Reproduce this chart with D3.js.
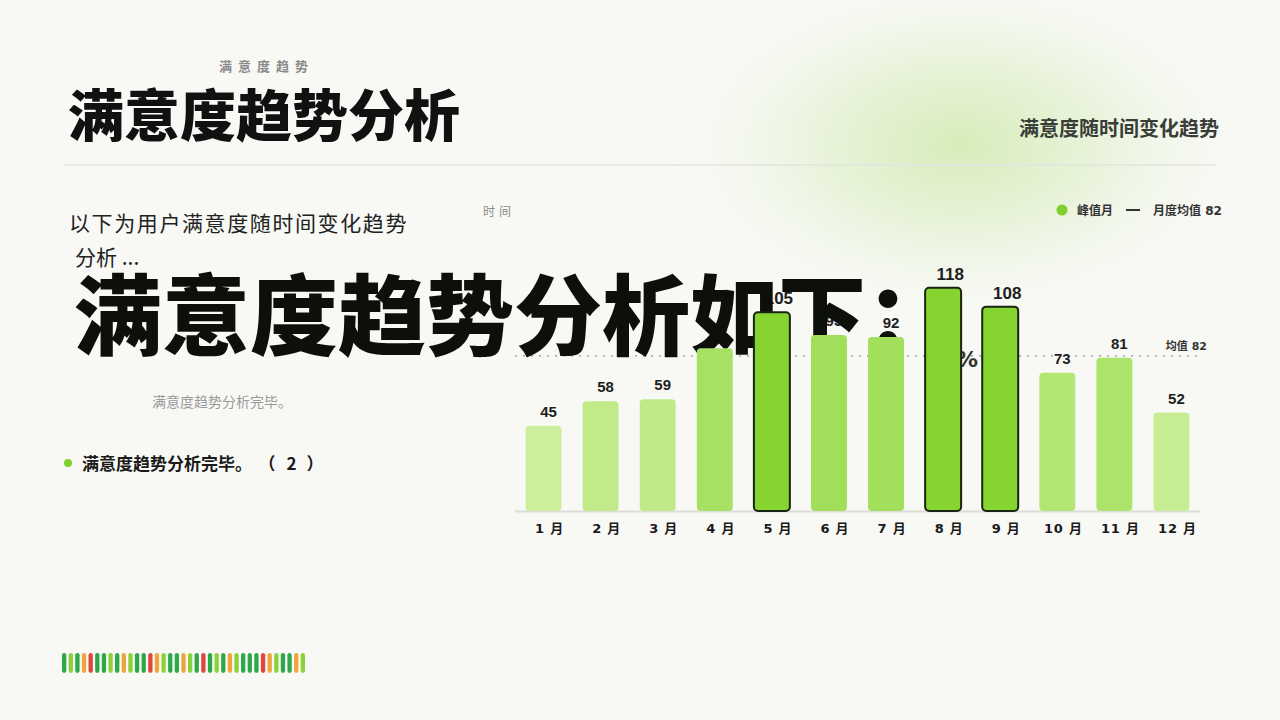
<!DOCTYPE html>
<html><head><meta charset="utf-8">
<script src="https://cdn.jsdelivr.net/npm/d3@7/dist/d3.min.js"></script>
<style>html,body{margin:0;padding:0;background:#f8f9f5;overflow:hidden}</style>
</head><body><svg id="c" width="1280" height="720"></svg>
<script>
const months = ["1 月","2 月","3 月","4 月","5 月","6 月","7 月","8 月","9 月","10 月","11 月","12 月"];
const values = [45,58,59,86,105,93,92,118,108,73,81,52];
const peakMonths = ["5 月","8 月","9 月"];
const avgValue = 82;
const stripKinds = ["dg","lg","dg","or","rd","dg","dg","lg","dg","or","lg","dg","dg","rd","or","lg","dg","dg","or","lg","dg","rd","dg","lg","dg","or","lg","dg","dg","dg","rd","or","lg","dg","dg","or","lg"];

const CJK = "'Noto Sans CJK SC','Noto Sans',sans-serif";
const svg = d3.select("#c");
const defs = svg.append("defs");
const g1 = defs.append("radialGradient").attr("id","glow");
g1.append("stop").attr("offset","0%").attr("stop-color","#d5ebb6").attr("stop-opacity",0.95);
g1.append("stop").attr("offset","45%").attr("stop-color","#e0f0cc").attr("stop-opacity",0.65);
g1.append("stop").attr("offset","100%").attr("stop-color","#f8f9f5").attr("stop-opacity",0);

svg.append("rect").attr("width",1280).attr("height",720).attr("fill","#f8f9f5");
svg.append("ellipse").attr("cx",960).attr("cy",145).attr("rx",310).attr("ry",185).attr("fill","url(#glow)");

// header
svg.append("text").attr("x",219).attr("y",71).text("满意度趋势")
  .attr("font-family",CJK).attr("font-size",13).attr("font-weight",700).attr("fill","#8a8a8a").attr("letter-spacing",6);
svg.append("text").attr("x",68).attr("y",136).text("满意度趋势分析")
  .attr("font-family",CJK).attr("font-size",56).attr("font-weight",900).attr("fill","#111");
svg.append("text").attr("x",1219).attr("y",136).attr("text-anchor","end").text("满意度随时间变化趋势")
  .attr("font-family",CJK).attr("font-size",20).attr("font-weight",700).attr("fill","#3a3d38");
svg.append("line").attr("x1",64).attr("x2",1216).attr("y1",165).attr("y2",165).attr("stroke","#e2e4de").attr("stroke-width",1.5);

// left texts
svg.append("text").attr("x",69).attr("y",231).text("以下为用户满意度随时间变化趋势")
  .attr("font-family",CJK).attr("font-size",21).attr("fill","#222").attr("letter-spacing",1.6);
svg.append("text").attr("x",75).attr("y",265).text("分析 ...")
  .attr("font-family",CJK).attr("font-size",21).attr("fill","#222");
svg.append("text").attr("x",152).attr("y",407).text("满意度趋势分析完毕。")
  .attr("font-family",CJK).attr("font-size",14).attr("fill","#9a9a9a");
svg.append("circle").attr("cx",68).attr("cy",463).attr("r",4).attr("fill","#7fd02f");
const bt = svg.append("text").attr("x",82).attr("y",470)
  .attr("font-family",CJK).attr("font-size",17).attr("font-weight",700).attr("fill","#1a1a1a");
bt.append("tspan").text("满意度趋势分析完毕。");
bt.append("tspan").attr("dx",15).text("（");
bt.append("tspan").attr("dx",11).text("2");
bt.append("tspan").attr("dx",10).text("）");

// strip
const sx = d3.scaleBand().domain(d3.range(stripKinds.length)).range([62,305]).paddingInner(0.35);
const stripColor = {dg:"#2fa84a", lg:"#8cd13a", or:"#eda53c", rd:"#e0463f"};
svg.append("g").selectAll("rect").data(stripKinds).join("rect")
  .attr("x",(d,i)=>sx(i)).attr("width",sx.bandwidth()).attr("y",653).attr("height",20)
  .attr("rx",sx.bandwidth()/2).attr("fill",d=>stripColor[d]);

// chart
const x = d3.scalePoint().domain(months).range([515,1200]).padding(0.5);
const bw = x.step()*0.63;
const y = d3.scaleLinear().domain([0,130]).range([511,265]);
const col = d3.scaleLinear().domain([45,93]).range(["#cdef9b","#a1df5a"]).clamp(true);
const isPeak = m => peakMonths.includes(m);
const data = months.map((m,i)=>({m, v:values[i]}));

svg.append("text").attr("x",483).attr("y",216).text("时间")
  .attr("font-family",CJK).attr("font-size",12).attr("fill","#8a8a8a").attr("letter-spacing",4);

// legend
svg.append("circle").attr("cx",1062).attr("cy",210).attr("r",5.5).attr("fill","#7fd02f");
svg.append("text").attr("x",1077).attr("y",215).text("峰值月")
  .attr("font-family",CJK).attr("font-size",12).attr("font-weight",700).attr("fill","#333");
svg.append("line").attr("x1",1126).attr("x2",1140).attr("y1",210).attr("y2",210).attr("stroke","#333").attr("stroke-width",2);
svg.append("text").attr("x",1153).attr("y",215).text("月度均值 82")
  .attr("font-family","'DejaVu Sans',"+CJK).attr("font-size",12).attr("font-weight",700).attr("fill","#333");

// axis baseline
svg.append("line").attr("x1",515).attr("x2",1200).attr("y1",y(0)+0.5).attr("y2",y(0)+0.5).attr("stroke","#dcdcd8").attr("stroke-width",2);
// avg line
svg.append("line").attr("x1",515).attr("x2",1200).attr("y1",y(avgValue)).attr("y2",y(avgValue))
  .attr("stroke","#8f8f8b").attr("stroke-width",1.4).attr("stroke-dasharray","2,6");
svg.append("text").attr("x",1207).attr("y",y(avgValue)-6).attr("text-anchor","end").text("均值 82")
  .attr("font-family","'DejaVu Sans',"+CJK).attr("font-size",11).attr("font-weight",700).attr("fill","#333");

// value labels (under overlay)
svg.append("g").selectAll("text").data(data).join("text")
  .attr("x",d=>x(d.m)+(isPeak(d.m)?7:5)).attr("y",d=>y(d.v)-(isPeak(d.m)?8:9))
  .attr("text-anchor","middle").text(d=>d.v)
  .attr("font-family","'Liberation Sans',Arial,sans-serif").attr("font-weight",700)
  .attr("font-size",d=>isPeak(d.m)?17:15).attr("fill","#1e1e1e");

// x labels
svg.append("g").selectAll("text").data(months).join("text")
  .attr("x",d=>x(d)+6).attr("y",533).attr("text-anchor","middle").text(d=>d)
  .attr("font-family","'DejaVu Sans',"+CJK).attr("font-size",13).attr("font-weight",700).attr("fill","#1a1a1a")
  .attr("letter-spacing",0.8);

// overlay big text
svg.append("text").attr("x",74).attr("y",348).text("满意度趋势分析如下：")
  .attr("font-family",CJK).attr("font-size",88).attr("font-weight",900).attr("fill","#0d0f0b");
svg.append("text").attr("x",956).attr("y",367).text("%")
  .attr("font-family","'DejaVu Sans',sans-serif").attr("font-size",22).attr("font-weight",700).attr("fill","#333");

// bars
svg.append("g").selectAll("rect").data(data).join("rect")
  .attr("x",d=>x(d.m)-bw/2).attr("width",bw)
  .attr("y",d=>y(d.v)).attr("height",d=>y(0)-y(d.v))
  .attr("rx",4)
  .attr("fill",d=>isPeak(d.m)?"#86d42f":col(d.v))
  .attr("stroke",d=>isPeak(d.m)?"#18240f":"none").attr("stroke-width",2);
</script></body></html>
